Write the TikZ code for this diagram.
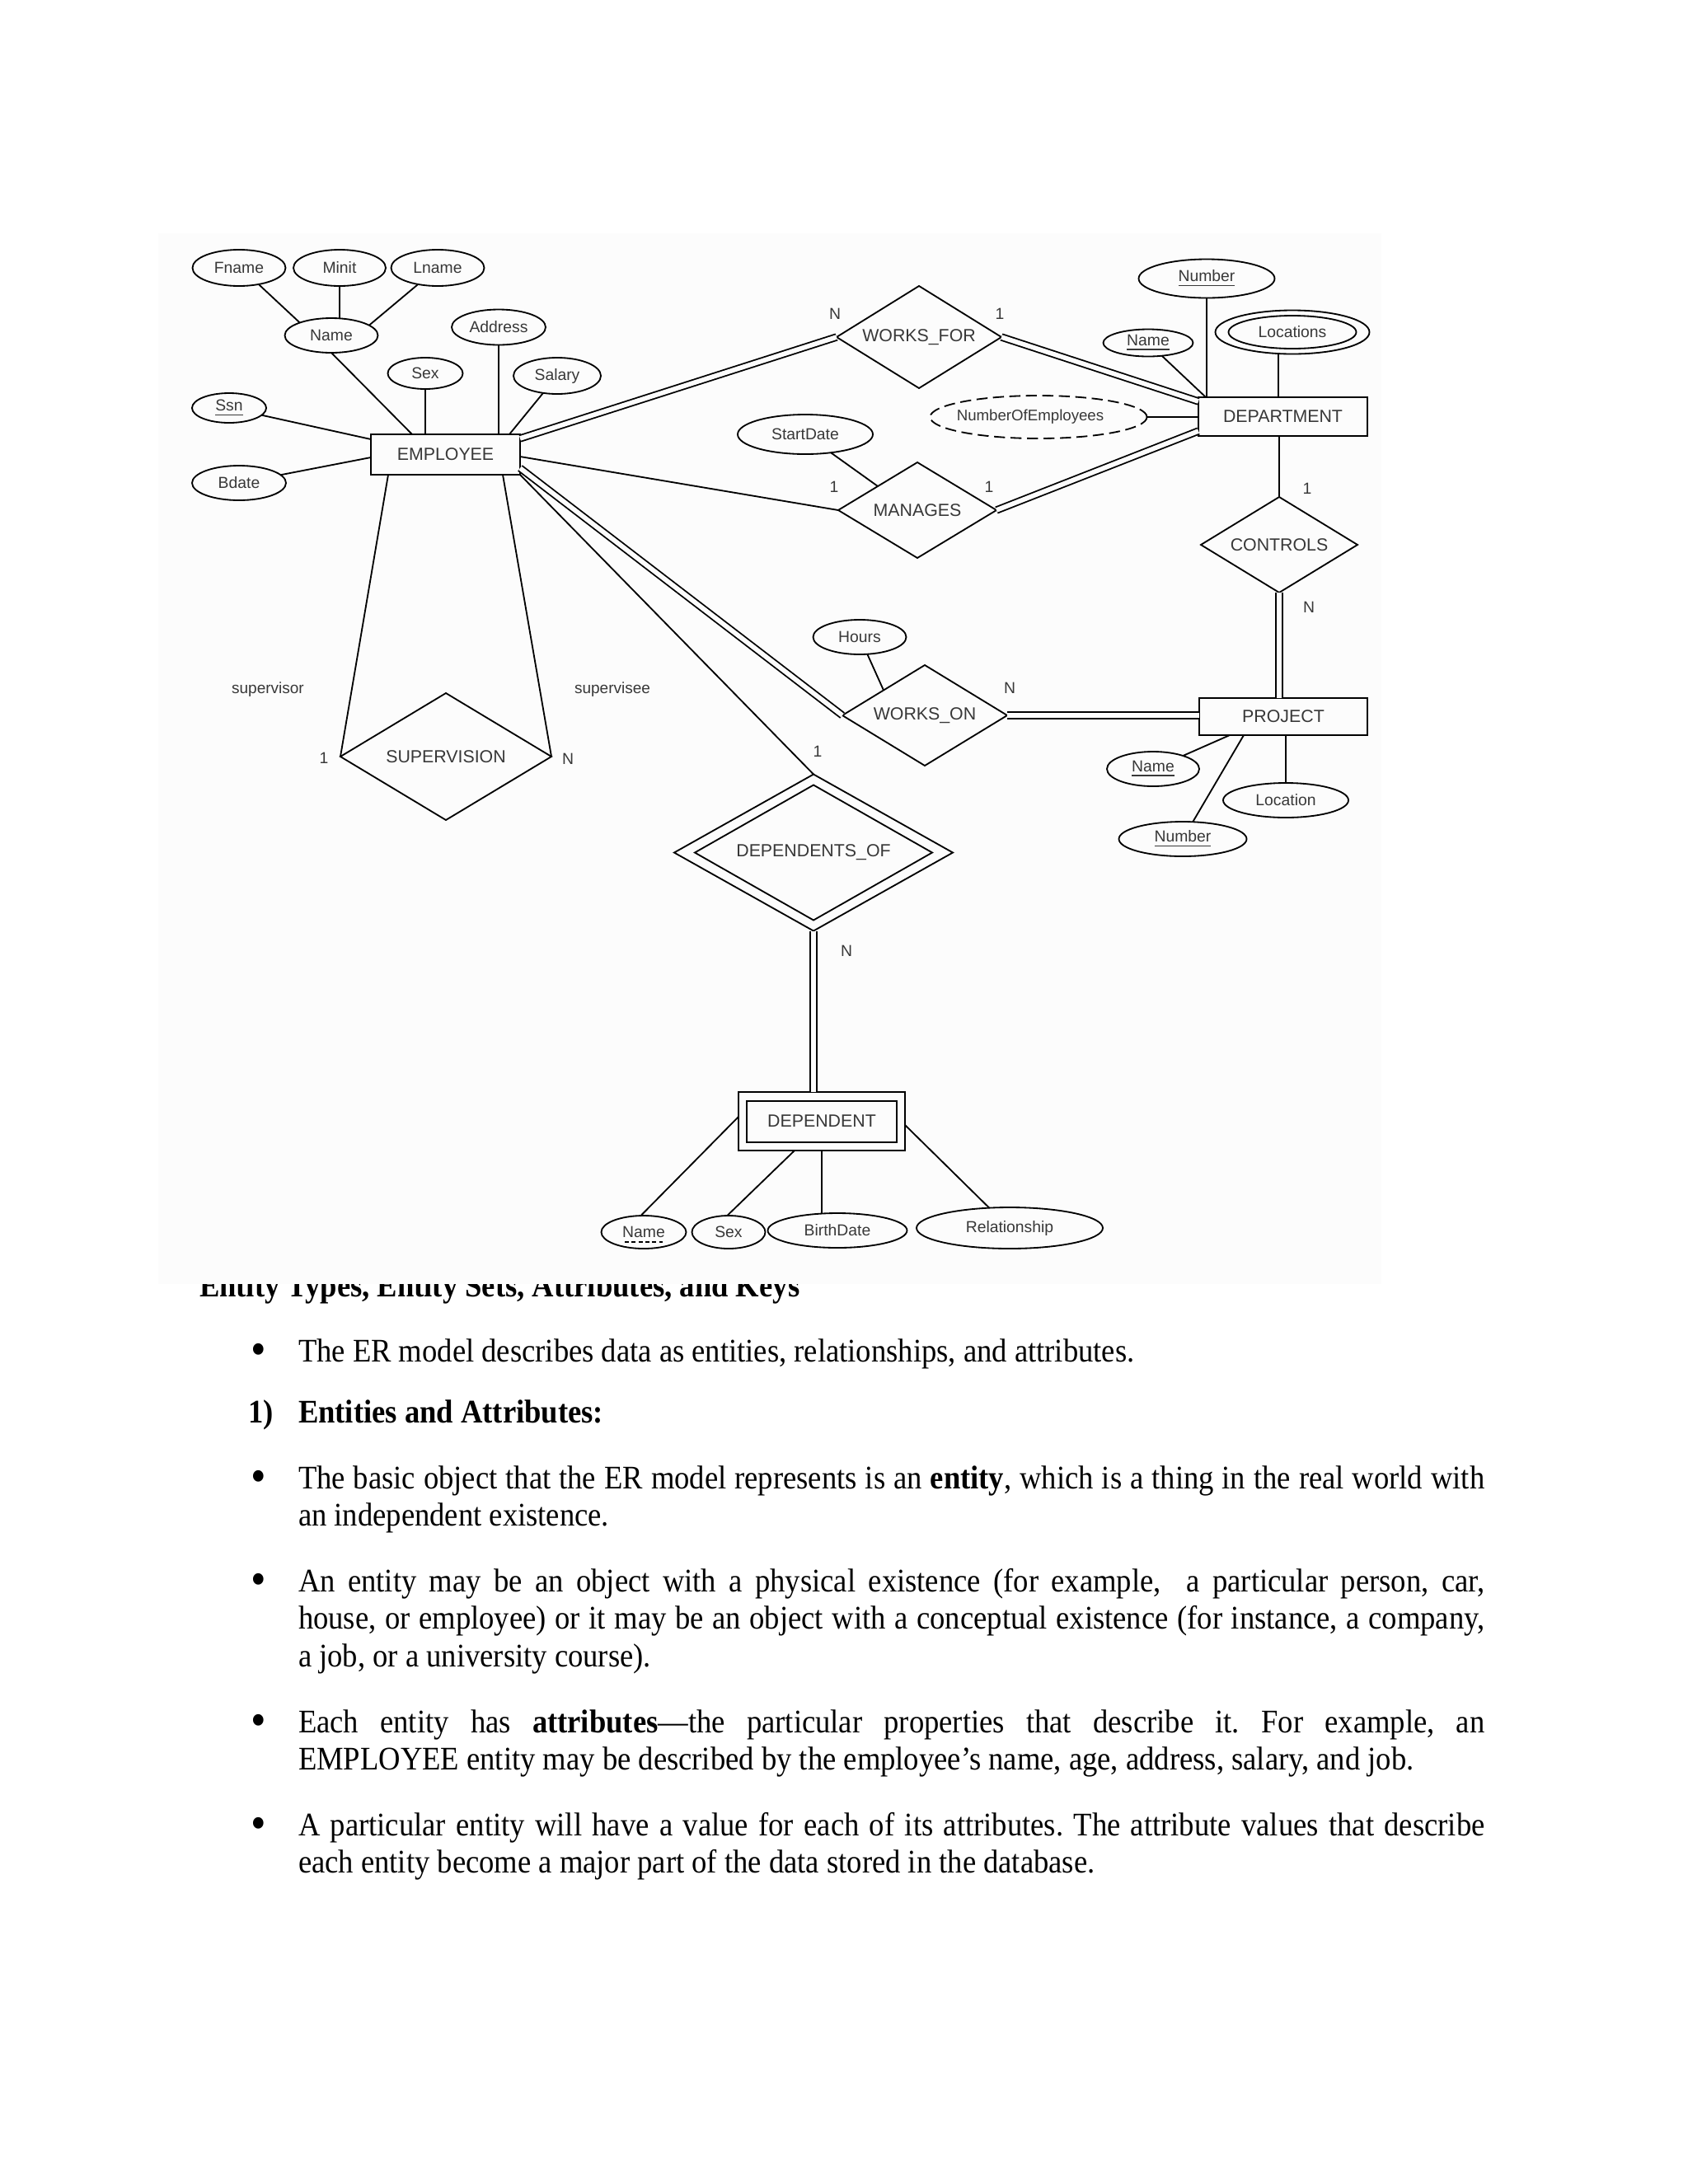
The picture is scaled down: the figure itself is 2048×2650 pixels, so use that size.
\documentclass[tikz,border=0pt]{standalone}
\usepackage{graphicx}
\usepackage{fontspec}
\setmainfont{Liberation Serif}[FakeStretch=0.915]
\newfontfamily\diagfont{Liberation Sans}
\usetikzlibrary{shapes.geometric,calc}
\definecolor{imgbg}{gray}{0.99}
\definecolor{dtext}{gray}{0.22}
\newcommand{\jl}[1]{\makebox[431.8pt][s]{#1}}
\newcommand{\bigbul}{\raisebox{-1.3pt}{\scalebox{1.45}{•}}}
\frenchspacing
\begin{document}
\begin{tikzpicture}[x=0.3pt,y=-0.3pt,line width=0.55pt,
  every node/.style={inner sep=0pt,outer sep=0pt},
  sz/.style 2 args={minimum width=#1*0.3pt,minimum height=#2*0.3pt},
  dsz/.style n args={3}{minimum width=#1*0.6pt,minimum height=#2*0.6pt,shape aspect=#3},
  attr/.style={ellipse,draw,text=dtext,font=\diagfont\fontsize{5.8pt}{7pt}\selectfont},
  ent/.style={rectangle,draw,line width=0.6pt,text=dtext,font=\diagfont\fontsize{6.4pt}{7.6pt}\selectfont},
  rel/.style={diamond,draw,text=dtext,font=\diagfont\fontsize{6.4pt}{7.6pt}\selectfont},
  card/.style={text=dtext,font=\diagfont\fontsize{5.8pt}{7pt}\selectfont},
  role/.style={text=dtext,font=\diagfont\fontsize{5.7pt}{7pt}\selectfont},
  dbl/.style={line width=0.55pt,double=imgbg,double distance=1.7pt},
  body/.style={anchor=base west,font=\fontsize{12pt}{13.65pt}\selectfont},
  bul/.style={anchor=base,font=\fontsize{12pt}{13.65pt}\selectfont},
]
\useasboundingbox (0,0) rectangle (2048,2650);

% heading (partly hidden by the picture above it)
\node[body,font=\fontsize{12pt}{13.65pt}\selectfont\bfseries] (head) at (242,1573) {Entity Types, Entity Sets, Attributes, and Keys};
\fill[imgbg] (192,283) rectangle (1676,1558);

% ---------- EMPLOYEE ----------
\node[attr,sz={113}{44}] (fname) at (290,325) {Fname};
\node[attr,sz={112}{44}] (minit) at (412,325) {Minit};
\node[attr,sz={113}{44}] (lname) at (531,325) {Lname};
\node[attr,sz={113}{42}] (ename) at (402,407) {Name};
\node[attr,sz={114}{43}] (addr) at (605,397) {Address};
\node[attr,sz={91}{38}] (esex) at (516,453) {Sex};
\node[attr,sz={106}{44}] (salary) at (676,456) {Salary};
\node[attr,sz={90}{36}] (ssn) at (278,495) {\underline{Ssn}};
\node[attr,sz={114}{42}] (bdate) at (290,586) {Bdate};
\node[ent,sz={181}{49}] (emp) at (540.5,551.5) {EMPLOYEE};

% ---------- WORKS_FOR / DEPARTMENT ----------
\node[rel,dsz={100}{62}{1.61}] (wf) at (1115,409) {WORKS\_FOR};
\node[card] (wfn) at (1013,381) {N};
\node[card] (wf1) at (1213,381) {1};
\node[ent,sz={205}{47}] (dept) at (1556.5,505.5) {DEPARTMENT};
\node[attr,sz={165}{47}] (dnum) at (1464,338) {\underline{Number}};
\node[attr,sz={109}{33}] (dname) at (1393,416) {\underline{Name}};
\node[attr,sz={187}{53}] (dloc) at (1568,403) {};
\node[attr,sz={155}{40}] (dlocin) at (1568,403) {Locations};
\node[attr,sz={263}{52},dash pattern=on 4pt off 2pt,font=\diagfont\fontsize{5.6pt}{7pt}\selectfont] (noe) at (1260,506) {\hspace*{-6pt}NumberOfEmployees};

% ---------- MANAGES ----------
\node[attr,sz={164}{48}] (sdate) at (977,527) {StartDate};
\node[rel,dsz={96}{58}{1.66}] (man) at (1113,619) {MANAGES};
\node[card] (man1a) at (1012,591) {1};
\node[card] (man1b) at (1200,591) {1};

% ---------- CONTROLS / PROJECT ----------
\node[rel,dsz={95}{58}{1.64}] (ctrl) at (1552,661) {CONTROLS};
\node[card] (ctrl1) at (1586,593) {1};
\node[card] (ctrln) at (1588,737) {N};
\node[ent,sz={204}{45}] (proj) at (1557,869.5) {PROJECT};
\node[attr,sz={112}{42}] (pname) at (1399,933) {\underline{Name}};
\node[attr,sz={152}{42}] (ploc) at (1560,971) {Location};
\node[attr,sz={155}{42}] (pnum) at (1435,1018) {\underline{Number}};

% ---------- WORKS_ON ----------
\node[attr,sz={113}{42}] (hours) at (1043,773) {Hours};
\node[rel,dsz={100}{61}{1.64}] (wo) at (1122,868) {WORKS\_ON};
\node[card] (won) at (1225,835) {N};

% ---------- SUPERVISION ----------
\node[rel,dsz={128}{77}{1.66}] (sup) at (541,918) {SUPERVISION};
\node[card] (sup1) at (393,920) {1};
\node[card] (supn) at (689,921) {N};
\node[role] (rsor) at (325,837) {supervisor};
\node[role] (rsee) at (743,837) {supervisee};

% ---------- DEPENDENTS_OF / DEPENDENT ----------
\node[rel,dsz={169}{95}{1.78}] (dof) at (987,1034.5) {};
\node[rel,dsz={144}{82}{1.76}] (dofin) at (987,1034.5) {DEPENDENTS\_OF};
\node[card] (dof1) at (992,912) {1};
\node[card] (dofn) at (1027,1154) {N};
\node[ent,sz={202}{71}] (dep) at (997,1360.5) {};
\node[ent,sz={182}{50}] (depin) at (997,1360.5) {DEPENDENT};
\node[attr,sz={103}{40}] (dpname) at (781,1495) {Name};
\node[attr,sz={89}{40}] (dpsex) at (884,1495) {Sex};
\node[attr,sz={169}{42}] (dpbd) at (1016,1493) {BirthDate};
\node[attr,sz={226}{50}] (dprel) at (1225,1490) {Relationship};
\draw[line width=0.5pt,dash pattern=on 1.5pt off 1pt] ($(dpname.center)+(-23,12)$) -- ($(dpname.center)+(23,12)$);

% ---------- connectors ----------
\draw (fname.-40) -- (ename.158);
\draw (minit.south) -- (minit.south |- ename.north);
\draw (lname) -- (ename.15);
\draw (ename.south) -- ($(emp.north west)+(50,0)$);
\draw (esex.south) -- (esex.south |- emp.north);
\draw (addr.south) -- (addr.south |- emp.north);
\draw (salary) -- ($(emp.north west)+(168,0)$);
\draw (ssn) -- ($(emp.north west)+(0,6)$);
\draw (bdate) -- ($(emp.north west)+(0,28)$);

\draw[dbl] ($(emp.north east)+(0,5)$) -- (wf.west);
\draw[dbl] (wf.east) -- ($(dept.north west)+(0,5)$);
\draw ($(emp.north east)+(0,27)$) -- (man.west);
\draw[dbl] (man.east) -- ($(dept.south west)+(0,-6)$);
\draw (sdate) -- (man.north west);
\draw (noe.east) -- (noe.east -| dept.west);
\draw (dnum.south) -- (dnum.south |- dept.north);
\draw (dname) -- ($(dept.north west)+(9,0)$);
\coordinate (dl) at ($(dept.north west)+(97,0)$);
\draw (dl |- dloc.south) -- (dl);
\draw (ctrl.north) -- (ctrl.north |- dept.south);
\draw[dbl] (ctrl.south) -- (ctrl.south |- proj.north);
\draw[dbl] (wo.east) -- (wo.east -| proj.west);
\draw (hours) -- (wo.north west);
\draw[dbl] ($(emp.south east)+(0,-8)$) -- (wo.west);
\draw (pname) -- ($(proj.south west)+(37,0)$);
\draw (ploc.north) -- (ploc.north |- proj.south);
\draw (pnum) -- ($(proj.south west)+(54,0)$);

\draw ($(emp.south west)+(21,0)$) -- (sup.west);
\draw ($(emp.south west)+(160,0)$) -- (sup.east);
\draw (emp.south east) -- (dof.north);
\draw[dbl] (dof.south) -- (dof.south |- dep.north);
\draw ($(dep.north west)+(0,30)$) -- (dpname.100);
\draw ($(dep.south west)+(68,0)$) -- (dpsex.95);
\draw (dep.south) -- (dep.south |- dpbd.north);
\draw ($(dep.north east)+(0,40)$) -- (dprel);

% ---------- body text ----------
\node[bul] (bu1) at (314,1652) {\bigbul};
\node[body] (t1) at (362,1652) {The ER model describes data as entities, relationships, and attributes.};
\node[body,font=\fontsize{12pt}{13.65pt}\selectfont\bfseries] (n1) at (301,1726) {1)};
\node[body,font=\fontsize{12pt}{13.65pt}\selectfont\bfseries] (t2) at (362,1726) {Entities and Attributes:};

\node[bul] (bu2) at (314,1806) {\bigbul};
\node[body] (t3a) at (362,1806) {\jl{The basic object that the ER model represents is an \textbf{entity}, which is a thing in the real world with}};
\node[body] (t3b) at (362,1851.5) {an independent existence.};

\node[bul] (bu3) at (314,1931) {\bigbul};
\node[body] (t4a) at (362,1931) {\jl{An entity may be an object with a physical existence (for example,\ \ a particular person, car,}};
\node[body] (t4b) at (362,1976.5) {\jl{house, or employee) or it may be an object with a conceptual existence (for instance, a company,}};
\node[body] (t4c) at (362,2022) {a job, or a university course).};

\node[bul] (bu4) at (314,2102) {\bigbul};
\node[body] (t5a) at (362,2102) {\jl{Each entity has \textbf{attributes}—the particular properties that describe it. For example, an}};
\node[body] (t5b) at (362,2147.5) {EMPLOYEE entity may be described by the employee’s name, age, address, salary, and job.};

\node[bul] (bu5) at (314,2227) {\bigbul};
\node[body] (t6a) at (362,2227) {\jl{A particular entity will have a value for each of its attributes. The attribute values that describe}};
\node[body] (t6b) at (362,2272.5) {each entity become a major part of the data stored in the database.};
\end{tikzpicture}
\end{document}
